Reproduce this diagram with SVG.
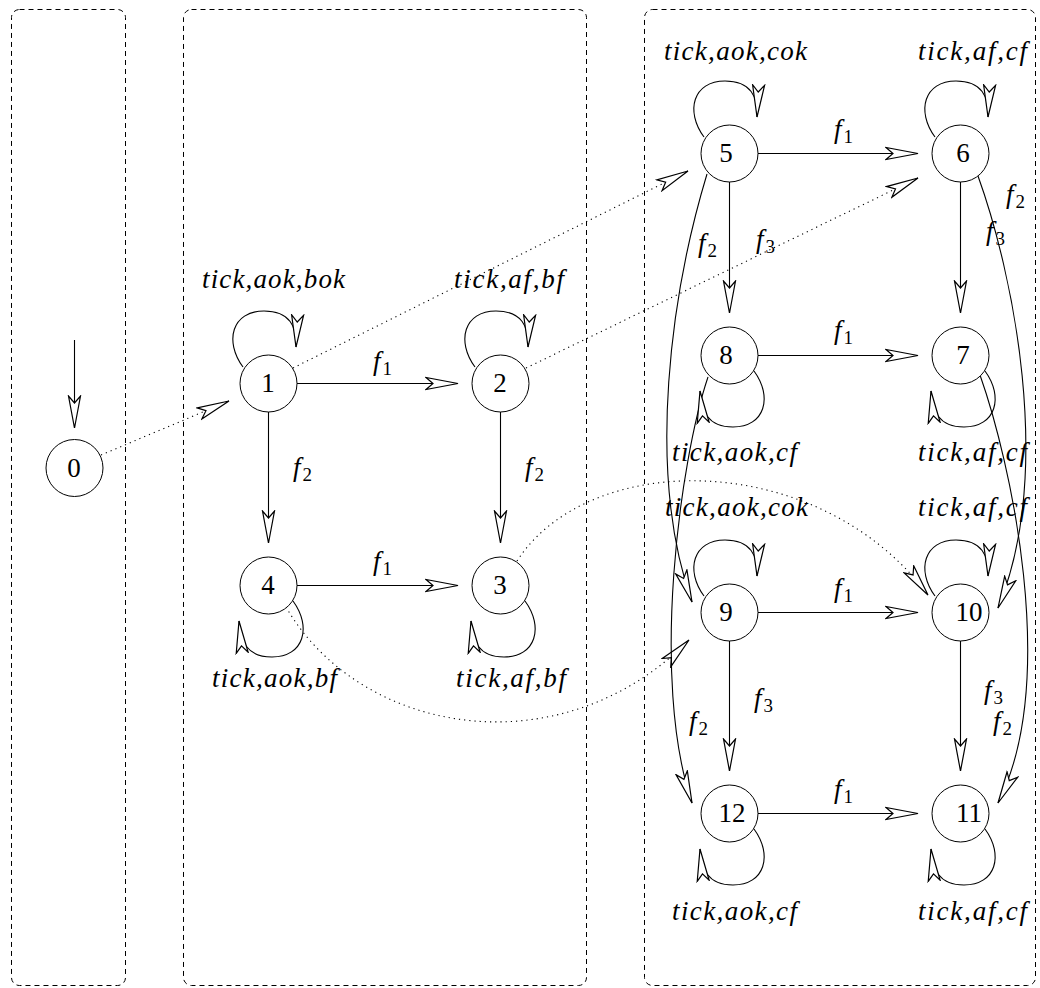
<svg xmlns="http://www.w3.org/2000/svg" width="1040" height="988" viewBox="0 0 1040 988">
<style>
.box{fill:none;stroke:#000;stroke-width:1;stroke-dasharray:5,4}
.node{fill:#fff;stroke:#000;stroke-width:1}
.e{fill:none;stroke:#000;stroke-width:1.1;marker-end:url(#ah)}
.d{fill:none;stroke:#000;stroke-width:1.1;stroke-dasharray:1.2,4;marker-end:url(#ah)}
text{font-family:'Liberation Serif','DejaVu Serif',serif;fill:#000}
.lbl{font-style:italic;font-size:27px}
.sub{font-style:normal;font-size:19px}
.num{font-size:27px;text-anchor:middle}
</style>
<defs>
<marker id="ah" markerWidth="40" markerHeight="16" viewBox="0 0 40 16" refX="33" refY="8" orient="auto" markerUnits="userSpaceOnUse">
<path d="M33,8 L1,2 L8,8 L1,14 Z" fill="#fff" stroke="#000" stroke-width="1.2" stroke-dasharray="none" stroke-linejoin="miter"/>
</marker>
</defs>
<rect width="1040" height="988" fill="#fff"/>
<g id="boxes">
<rect class="box" x="11.5" y="9.5" width="114" height="976" rx="8"/>
<rect class="box" x="183.5" y="9.5" width="403" height="976" rx="8"/>
<rect class="box" x="644.5" y="9.5" width="391" height="976" rx="8"/>
</g>
<g id="connectors">
<path class="e" d="M74.5,340 L74.5,428"/>
<path class="d" d="M101,455 L229,401"/>
<path class="d" d="M293,368 L688,171"/>
<path class="d" d="M526,368 L918,178"/>
<path class="d" d="M517,561 C590,448 820,450 928,595"/>
<path class="d" d="M286,607 C360,735 560,770 689,640"/>
<path class="e" d="M296,383.5 L458,383.5"/>
<path class="e" d="M268.5,412 L268.5,543"/>
<path class="e" d="M500.5,412 L500.5,543"/>
<path class="e" d="M296,585.5 L458,585.5"/>
<path class="e" d="M758,153.5 L918,153.5"/>
<path class="e" d="M758,355.5 L918,355.5"/>
<path class="e" d="M758,612.5 L918,612.5"/>
<path class="e" d="M758,813.5 L918,813.5"/>
<path class="e" d="M729.5,182 L729.5,313"/>
<path class="e" d="M960.5,182 L960.5,313"/>
<path class="e" d="M729.5,641 L729.5,771"/>
<path class="e" d="M960.5,641 L960.5,771"/>
<path class="e" d="M707,174 C672,290 645,470 692,602"/>
<path class="e" d="M708,377 C680,460 650,680 692,803"/>
<path class="e" d="M978,176 C1012,270 1055,470 998,608"/>
<path class="e" d="M980,375 C1010,460 1060,680 998,803"/>
<path class="e" d="M243,367 C224,341 232,311 264,311 C290,311 297,327 296,347"/>
<path class="e" d="M475,367 C456,341 464,311 496,311 C522,311 529,327 528,347"/>
<path class="e" d="M704,137 C685,111 693,81 725,81 C751,81 758,97 757,117"/>
<path class="e" d="M935,137 C916,111 924,81 956,81 C982,81 989,97 988,117"/>
<path class="e" d="M704,596 C685,570 693,540 725,540 C751,540 758,556 757,576"/>
<path class="e" d="M935,596 C916,570 924,540 956,540 C982,540 989,556 988,576"/>
<path class="e" d="M293,601 C312,627 304,657 272,657 C246,657 241,641 239,621"/>
<path class="e" d="M525,601 C544,627 536,657 504,657 C478,657 473,641 471,621"/>
<path class="e" d="M754,371 C773,397 765,427 733,427 C707,427 702,411 700,391"/>
<path class="e" d="M985,371 C1004,397 996,427 964,427 C938,427 933,411 931,391"/>
<path class="e" d="M754,829 C773,855 765,885 733,885 C707,885 702,869 700,849"/>
<path class="e" d="M985,829 C1004,855 996,885 964,885 C938,885 933,869 931,849"/>
<text class="lbl" x="202" y="288" textLength="143" lengthAdjust="spacing">tick,aok,bok</text>
<text class="lbl" x="454" y="288" textLength="110" lengthAdjust="spacing">tick,af,bf</text>
<text class="lbl" x="212" y="687" textLength="125" lengthAdjust="spacing">tick,aok,bf</text>
<text class="lbl" x="456" y="687" textLength="110" lengthAdjust="spacing">tick,af,bf</text>
<text class="lbl" x="664" y="60" textLength="143" lengthAdjust="spacing">tick,aok,cok</text>
<text class="lbl" x="918" y="60" textLength="109" lengthAdjust="spacing">tick,af,cf</text>
<text class="lbl" x="672" y="461" textLength="125" lengthAdjust="spacing">tick,aok,cf</text>
<text class="lbl" x="918" y="461" textLength="109" lengthAdjust="spacing">tick,af,cf</text>
<text class="lbl" x="665" y="516" textLength="143" lengthAdjust="spacing">tick,aok,cok</text>
<text class="lbl" x="918" y="516" textLength="109" lengthAdjust="spacing">tick,af,cf</text>
<text class="lbl" x="672" y="920" textLength="125" lengthAdjust="spacing">tick,aok,cf</text>
<text class="lbl" x="918" y="920" textLength="109" lengthAdjust="spacing">tick,af,cf</text>
<text class="lbl" x="373" y="370">f<tspan class="sub" dx="2" dy="5">1</tspan></text>
<text class="lbl" x="373" y="570">f<tspan class="sub" dx="2" dy="5">1</tspan></text>
<text class="lbl" x="293" y="476">f<tspan class="sub" dx="2" dy="5">2</tspan></text>
<text class="lbl" x="525" y="476">f<tspan class="sub" dx="2" dy="5">2</tspan></text>
<text class="lbl" x="834" y="138">f<tspan class="sub" dx="2" dy="5">1</tspan></text>
<text class="lbl" x="834" y="339">f<tspan class="sub" dx="2" dy="5">1</tspan></text>
<text class="lbl" x="834" y="597">f<tspan class="sub" dx="2" dy="5">1</tspan></text>
<text class="lbl" x="834" y="798">f<tspan class="sub" dx="2" dy="5">1</tspan></text>
<text class="lbl" x="698" y="252">f<tspan class="sub" dx="2" dy="5">2</tspan></text>
<text class="lbl" x="756" y="248">f<tspan class="sub" dx="2" dy="5">3</tspan></text>
<text class="lbl" x="1006" y="203">f<tspan class="sub" dx="2" dy="5">2</tspan></text>
<text class="lbl" x="986" y="240">f<tspan class="sub" dx="2" dy="5">3</tspan></text>
<text class="lbl" x="754" y="707">f<tspan class="sub" dx="2" dy="5">3</tspan></text>
<text class="lbl" x="689" y="730">f<tspan class="sub" dx="2" dy="5">2</tspan></text>
<text class="lbl" x="984" y="699">f<tspan class="sub" dx="2" dy="5">3</tspan></text>
<text class="lbl" x="993" y="730">f<tspan class="sub" dx="2" dy="5">2</tspan></text>
</g>
<g id="n0"><circle class="node" cx="74.5" cy="468" r="28.5"/><text class="num" x="74" y="477">0</text></g>
<g id="n1"><circle class="node" cx="268.5" cy="383.5" r="28.5"/><text class="num" x="268" y="392">1</text></g>
<g id="n2"><circle class="node" cx="500.5" cy="383.5" r="28.5"/><text class="num" x="500" y="392">2</text></g>
<g id="n3"><circle class="node" cx="500.5" cy="585.5" r="28.5"/><text class="num" x="500" y="594">3</text></g>
<g id="n4"><circle class="node" cx="268.5" cy="585.5" r="28.5"/><text class="num" x="268" y="594">4</text></g>
<g id="n5"><circle class="node" cx="729.5" cy="153.5" r="28.5"/><text class="num" x="726" y="162">5</text></g>
<g id="n6"><circle class="node" cx="960.5" cy="153.5" r="28.5"/><text class="num" x="963" y="162">6</text></g>
<g id="n7"><circle class="node" cx="960.5" cy="355.5" r="28.5"/><text class="num" x="963" y="364">7</text></g>
<g id="n8"><circle class="node" cx="729.5" cy="355.5" r="28.5"/><text class="num" x="726" y="364">8</text></g>
<g id="n9"><circle class="node" cx="729.5" cy="612.5" r="28.5"/><text class="num" x="726" y="621">9</text></g>
<g id="n10"><circle class="node" cx="960.5" cy="612.5" r="28.5"/><text class="num" x="969" y="621">10</text></g>
<g id="n11"><circle class="node" cx="960.5" cy="813.5" r="28.5"/><text class="num" x="969" y="822">11</text></g>
<g id="n12"><circle class="node" cx="729.5" cy="813.5" r="28.5"/><text class="num" x="732" y="822">12</text></g>
</svg>
